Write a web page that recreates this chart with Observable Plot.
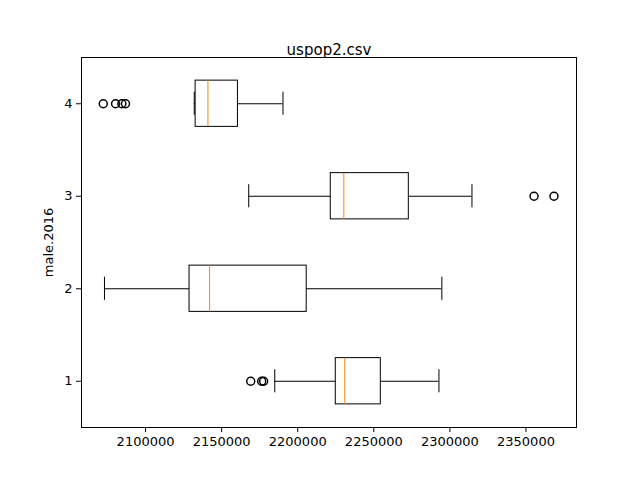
<!DOCTYPE html>
<html>
<head>
<script src="https://cdn.jsdelivr.net/npm/d3@7"></script>
<script src="https://cdn.jsdelivr.net/npm/@observablehq/plot@0.6"></script>
<style>body{margin:0;background:#fff;} svg{font-family:"DejaVu Sans",sans-serif;}</style>
</head>
<body>
<div id="chart"></div>
<script>
// box statistics per group
const groups = [1, 2, 3, 4];
const whiskerLo = [2184900, 2073000, 2167800, 2132000];
const q1 = [2225000, 2128900, 2221700, 2132900];
const median = [2230900, 2142100, 2230300, 2141000];
const q3 = [2254600, 2205900, 2273000, 2160700];
const whiskerHi = [2292800, 2294700, 2314500, 2190300];
const outliers = [
  {g: 1, v: 2169100}, {g: 1, v: 2176300}, {g: 1, v: 2177600},
  {g: 3, v: 2355300}, {g: 3, v: 2368400},
  {g: 4, v: 2072200}, {g: 4, v: 2080300}, {g: 4, v: 2084400}, {g: 4, v: 2086800}
];
const xTicks = [2100000, 2150000, 2200000, 2250000, 2300000, 2350000];

const boxes = groups.map((g, i) => ({
  g, lo: whiskerLo[i], q1: q1[i], med: median[i], q3: q3[i], hi: whiskerHi[i]
}));

const chart = Plot.plot({
  width: 640,
  height: 480,
  marginTop: 57,
  marginBottom: 53,
  marginLeft: 81,
  marginRight: 64,
  style: {fontSize: "13px", fontFamily: "DejaVu Sans", color: "black"},
  x: {domain: [2057900, 2383200]},
  y: {domain: [0.5, 4.5]},
  marks: [
    Plot.frame({stroke: "black"}),
    Plot.axisX({ticks: xTicks, tickFormat: d => String(d), tickSize: 5, tickPadding: 4, label: null}),
    Plot.axisY({ticks: groups, tickFormat: d => String(d), tickSize: 5, tickPadding: 4,
      label: "male.2016", labelAnchor: "center", labelArrow: "none", labelOffset: 38}),
    // whiskers
    Plot.ruleY(boxes, {y: "g", x1: "lo", x2: "q1", stroke: "black"}),
    Plot.ruleY(boxes, {y: "g", x1: "q3", x2: "hi", stroke: "black"}),
    Plot.ruleX(boxes, {x: "lo", y1: d => d.g - 0.125, y2: d => d.g + 0.125, stroke: "black"}),
    Plot.ruleX(boxes, {x: "hi", y1: d => d.g - 0.125, y2: d => d.g + 0.125, stroke: "black"}),
    // boxes
    Plot.rect(boxes, {x1: "q1", x2: "q3", y1: d => d.g - 0.25, y2: d => d.g + 0.25, fill: "none", stroke: "black"}),
    Plot.ruleX(boxes, {x: "med", y1: d => d.g - 0.25, y2: d => d.g + 0.25, stroke: "#ff7f0e"}),
    Plot.dot(outliers, {x: "v", y: "g", r: 4, stroke: "black", fill: "none"}),
    Plot.text(["uspop2.csv"], {frameAnchor: "top", dy: -13, fontSize: 15, fill: "black"})
  ]
});
document.getElementById("chart").append(chart);
</script>
</body>
</html>
